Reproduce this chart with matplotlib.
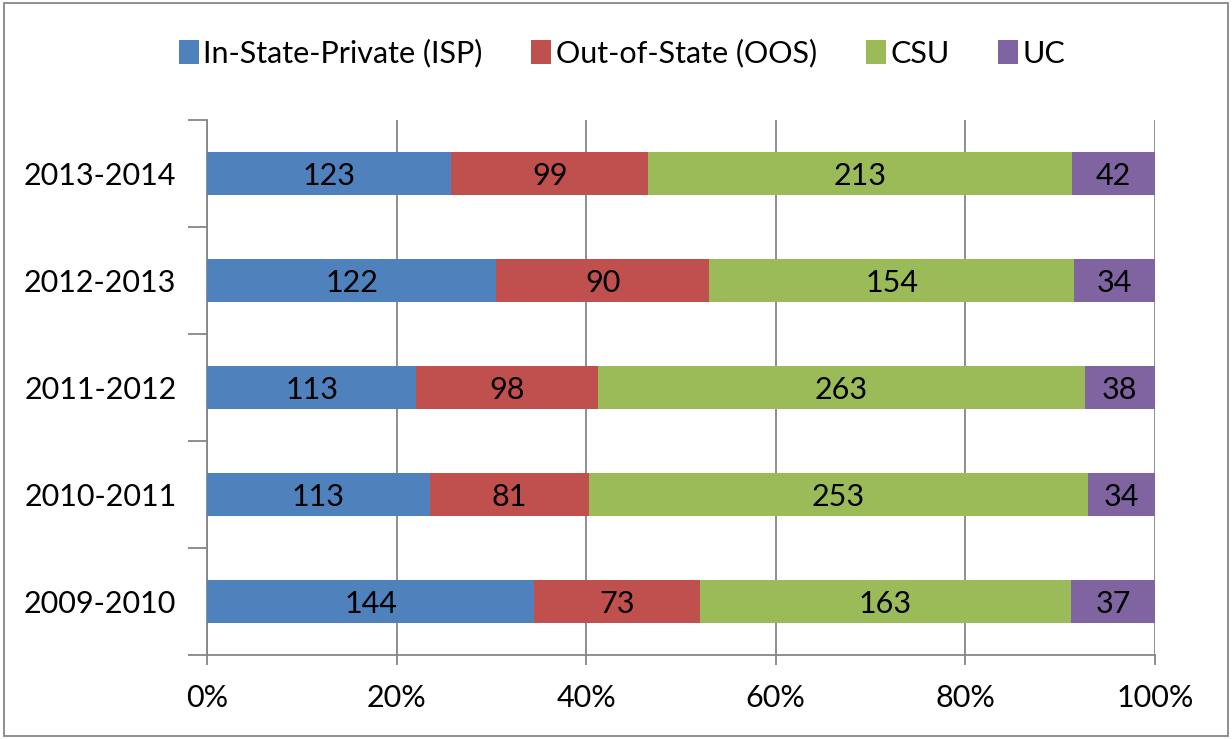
import numpy as np
import matplotlib.pyplot as plt
from matplotlib.patches import Rectangle

plt.rcParams['font.family'] = ['Lato', 'DejaVu Sans']

years = ["2009-2010", "2010-2011", "2011-2012", "2012-2013", "2013-2014"]
series = ["In-State-Private (ISP)", "Out-of-State (OOS)", "CSU", "UC"]
isp = [144, 113, 113, 122, 123]
oos = [73, 81, 98, 90, 99]
csu = [163, 253, 263, 154, 213]
uc = [37, 34, 38, 34, 42]
colors = ["#4F81BD", "#C0504D", "#9BBB59", "#8064A2"]

data = np.array([isp, oos, csu, uc], dtype=float)
pct = data / data.sum(axis=0) * 100

fs = 22
fig = plt.figure(figsize=(12.32, 7.39), dpi=100)
ax = fig.add_axes([0.168, 0.1137, 0.7695, 0.7239])

y = np.arange(len(years))
left = np.zeros(len(years))
for i in range(len(series)):
    ax.barh(y, pct[i], left=left, height=0.4, color=colors[i],
            label=series[i], zorder=3)
    for j in range(len(years)):
        ax.text(left[j] + pct[i][j] / 2, y[j] - 0.02, str(int(data[i][j])),
                ha="center", va="center", fontsize=fs, color="black", zorder=4)
    left += pct[i]

ax.set_xlim(0, 100)
ax.set_ylim(-0.5, len(years) - 0.5)
ax.set_xticks(np.arange(0, 101, 20))
ax.set_xticklabels([f"{v}%" for v in range(0, 101, 20)], fontsize=fs)
ax.set_yticks(y)
ax.set_yticklabels(years, fontsize=fs)
ax.set_yticks(np.arange(-0.5, len(years), 1), minor=True)
ax.tick_params(axis="y", which="major", length=0, pad=22)
ax.tick_params(axis="y", which="minor", length=14, color="#868686", width=1.3)
ax.tick_params(axis="x", length=7, color="#868686", width=1.3, pad=14)
ax.grid(axis="x", color="#868686", linewidth=1.3, zorder=0)
for s in ["top", "right"]:
    ax.spines[s].set_visible(False)
for s in ["left", "bottom"]:
    ax.spines[s].set_color("#868686")
    ax.spines[s].set_linewidth(1.3)

fig.legend(loc="center", bbox_to_anchor=(0.505, 0.928), ncol=4, frameon=False,
           fontsize=fs, handlelength=0.65, handleheight=0.8, handletextpad=0.15,
           columnspacing=1.6)

fig.patches.append(Rectangle((0.003, 0.004), 0.994, 0.992, transform=fig.transFigure,
                             fill=False, edgecolor="#868686", linewidth=1.3))

fig.savefig("out.png", dpi=100)
